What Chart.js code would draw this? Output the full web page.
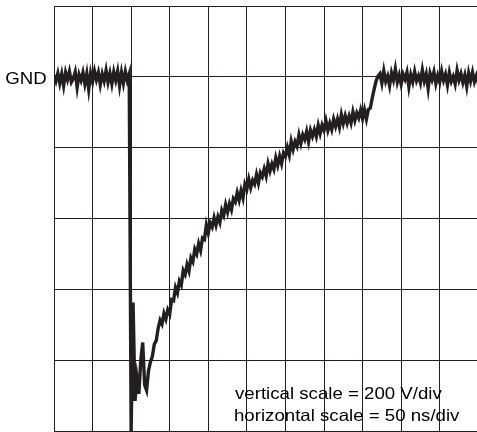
<!DOCTYPE html>
<html>
<head>
<meta charset="utf-8">
<script src="https://cdn.jsdelivr.net/npm/chart.js@4.4.1/dist/chart.umd.min.js"></script>
<style>
  html, body { margin: 0; padding: 0; background: #fff; overflow: hidden; }
  #wrap { position: relative; width: 477px; height: 432px; overflow: hidden; }
  #scope { position: absolute; left: 0; top: 0; }
  .lbl {
    position: absolute; white-space: nowrap; line-height: 1;
    font-family: "Liberation Sans", Arial, sans-serif; font-size: 16.5px; color: #000;
    transform-origin: 0 0; transform: scaleX(1.13);
  }
  #gnd { right: 430px; top: 70px; transform-origin: 100% 0; }
  #vscale { left: 235px; top: 385px; }
  #hscale { left: 234px; top: 407px; }
</style>
</head>
<body>
<div id="wrap">
  <canvas id="scope" width="480" height="432"></canvas>
  <div class="lbl" id="gnd">GND</div>
  <div class="lbl" id="vscale">vertical scale = 200 V/div</div>
  <div class="lbl" id="hscale">horizontal scale = 50 ns/div</div>
</div>
<script>
// scope settings (from the annotation)
const sampleNs = 2.5;          // one sample every 2.5 ns
const nsPerDiv = 50;
const voltsPerDiv = 200;
const timeRange = [0, 550];
const voltRange = [-1000, 200];

// trace, in volts
const gndBefore = [5, -12, 10, -18, 8, -25, 12, -8, 15, -15, -5, 14, -30, 6, -10, 12, -20, 9, -35, 10,
  -14, 16, -8, 12, -22, 8, -12, 18, -15, 10, -20, 14, -10, 16, -25, 12, -18, 15, -10, 8];
const fallEdge = [-1000, -637, -915, -850, -895, -800, -750, -870, -885, -830, -805, -790, -755, -745, -710];
const ramp = [-687, -698, -668, -684, -658, -670, -629, -632, -595, -610,
  -577, -588, -547, -558, -530, -548, -511, -522, -487, -500,
  -471, -490, -455, -459, -418, -441, -413, -424, -398, -419,
  -395, -411, -377, -391, -361, -382, -358, -375, -344, -353,
  -327, -348, -321, -342, -303, -317, -289, -313, -292, -303,
  -276, -300, -271, -282, -260, -280, -245, -266, -246, -261,
  -229, -250, -224, -245, -215, -225, -200, -221, -182, -205,
  -183, -196, -164, -188, -164, -177, -154, -183, -151, -168,
  -149, -168, -137, -160, -136, -151, -124, -151, -131, -149,
  -120, -140, -119, -142, -107, -132, -110, -131, -111, -130,
  -99, -123, -102, -116, -94, -118, -93, -119, -92,
  -88, -60, -35, -12, 2];
const gndAfter = [9, -18, 17, -13, 2, -25, 11, -9, 22, -15, 5, -21, 7, -7, 13, -28, 6, -14, 15, -11,
  3, -17, 19, -12, 8, -33, 10, -8, 14, -19, 4, -15, 16, -10, 7, -23, 12, -13, 1, -20,
  18, -9, 9, -16, 5, -27, 11, -12, 13, -14, 3, -18];

const volts = [...gndBefore, ...fallEdge, ...ramp, ...gndAfter];
const points = volts.map((v, i) => ({ x: i * sampleNs, y: v }));

const gridLine = { color: '#231f20', lineWidth: 1, drawTicks: false };

new Chart(document.getElementById('scope'), {
  type: 'line',
  data: {
    datasets: [{
      data: points,
      borderColor: '#231f20',
      borderWidth: 3.4,
      borderJoinStyle: 'miter',
      pointRadius: 0,
      tension: 0
    }]
  },
  options: {
    responsive: false,
    animation: false,
    layout: { padding: { left: 54, top: 6, right: 1.7, bottom: 1 } },
    plugins: { legend: { display: false }, tooltip: { enabled: false } },
    scales: {
      x: {
        type: 'linear', min: timeRange[0], max: timeRange[1],
        ticks: { display: false, stepSize: nsPerDiv },
        grid: gridLine,
        border: { display: true, color: '#231f20', width: 1 },
        afterFit: s => { s.height = 0; }
      },
      y: {
        min: voltRange[0], max: voltRange[1],
        ticks: { display: false, stepSize: voltsPerDiv },
        grid: gridLine,
        border: { display: true, color: '#231f20', width: 1 },
        afterFit: s => { s.width = 0; }
      }
    }
  }
});
</script>
</body>
</html>
